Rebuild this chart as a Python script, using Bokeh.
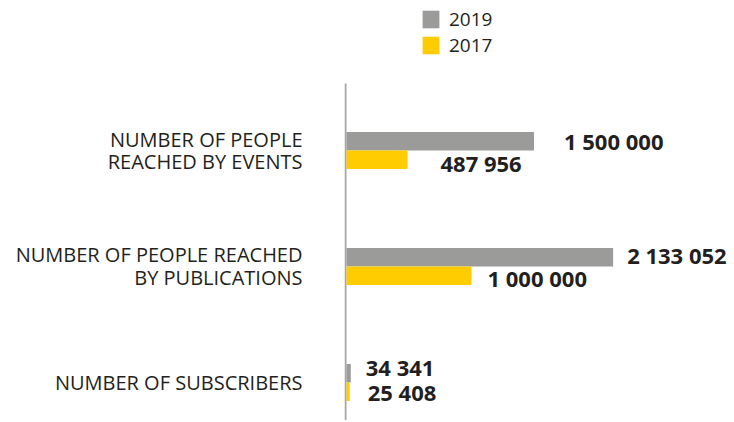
from bokeh.plotting import figure
from bokeh.models import ColumnDataSource, Range1d, FixedTicker, Legend, LegendItem
from bokeh.core.properties import value
from bokeh.embed import file_html
from bokeh.resources import INLINE

# ---- data ----
categories = [
    "NUMBER OF PEOPLE\nREACHED BY EVENTS",
    "NUMBER OF PEOPLE REACHED\nBY PUBLICATIONS",
    "NUMBER OF SUBSCRIBERS",
]
series_names = ["2019", "2017"]
values_2019 = [1500000, 2133052, 34341]
values_2017 = [487956, 1000000, 25408]

# ---- styling / placement (not data) ----
label_dx_2019 = [30, 14, 15]
label_dx_2017 = [33, 16, 18]
label_dy_2019 = [0, -2, -6]
label_dy_2017 = [3, 2, 0]
GRAY = "#9b9b9a"
YELLOW = "#fecc00"
AXIS = "#a5a5a5"
TEXT = "#231f20"
FONT = "Open Sans"
PX = 8000  # value units per pixel on the x scale

n = len(categories)
ypos = [n - 1 - i for i in range(n)]
bar_h = 0.16
y_start, y_end = -0.328, 3.293
axis_top = 2.578


def fmt(v):
    return f"{v:,}".replace(",", " ")


src19 = ColumnDataSource(dict(
    y=[y + bar_h / 2 for y in ypos], v=values_2019,
    label=[fmt(v) for v in values_2019], xo=label_dx_2019, yo=label_dy_2019))
src17 = ColumnDataSource(dict(
    y=[y - bar_h / 2 for y in ypos], v=values_2017,
    label=[fmt(v) for v in values_2017], xo=label_dx_2017, yo=label_dy_2017))

p = figure(width=730, height=420, output_backend="svg", toolbar_location=None,
           x_range=Range1d(-2 * PX, 384 * PX), y_range=Range1d(y_start, y_end),
           min_border_left=344, min_border_right=0, min_border_top=0,
           min_border_bottom=0)

# vertical baseline (axis line) starting below the legend
p.segment(x0=[-PX], y0=[y_start], x1=[-PX], y1=[axis_top],
          line_color=AXIS, line_width=2)

r19 = p.hbar(y="y", left=0, right="v", height=bar_h, source=src19,
             fill_color=GRAY, line_color=None)
r17 = p.hbar(y="y", left=0, right="v", height=bar_h, source=src17,
             fill_color=YELLOW, line_color=None)

for src in (src19, src17):
    p.text(x="v", y="y", text="label", x_offset="xo", y_offset="yo", source=src,
           text_font=value(FONT), text_font_style="bold",
           text_font_size="22px", text_color=TEXT, text_baseline="middle",
           text_align="left")

p.xaxis.visible = False
p.grid.visible = False
p.outline_line_color = None

ax = p.yaxis[0]
ax.ticker = FixedTicker(ticks=ypos)
ax.major_label_overrides = {y: c for y, c in zip(ypos, categories)}
ax.axis_line_color = None
ax.major_tick_line_color = None
ax.minor_tick_line_color = None
ax.major_label_standoff = 36
ax.major_label_text_font = FONT
ax.major_label_text_font_size = "20px"
ax.major_label_text_line_height = 0.85
ax.major_label_text_color = TEXT

legend = Legend(
    items=[LegendItem(label=series_names[0], renderers=[r19]),
           LegendItem(label=series_names[1], renderers=[r17])],
    location=(76, 362), orientation="vertical",
    glyph_width=21, glyph_height=22, label_height=18, spacing=0,
    padding=0, margin=0, label_standoff=8,
    border_line_color=None, background_fill_alpha=0,
    label_text_font=FONT, label_text_font_size="19px",
    label_text_color=TEXT)
p.add_layout(legend)

open("out.html", "w").write(file_html(p, INLINE))
